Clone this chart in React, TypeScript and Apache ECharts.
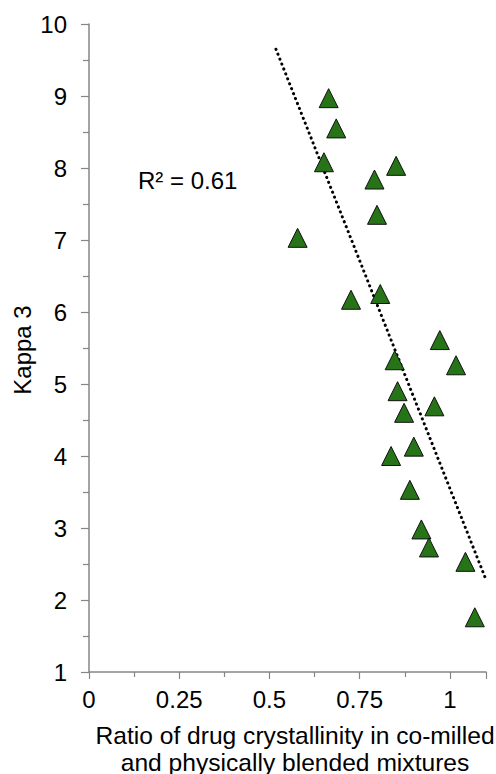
import React, { useEffect, useRef } from "react";
import * as echarts from "echarts";

const pointsX = [0.664, 0.685, 0.651, 0.851, 0.791, 0.798, 0.578, 0.726, 0.807, 0.972, 1.017, 0.847, 0.855, 0.957, 0.873, 0.9, 0.837, 0.889, 0.921, 0.942, 1.043, 1.069];
const pointsY = [8.97, 8.55, 8.08, 8.03, 7.84, 7.35, 7.03, 6.17, 6.25, 5.61, 5.26, 5.33, 4.9, 4.69, 4.6, 4.13, 4.0, 3.53, 2.98, 2.73, 2.53, 1.76];
const trendX = [0.518, 1.097];
const trendY = [9.65, 2.32];
const rSquaredLabel = "R² = 0.61";
const xTitleLines = ["Ratio of drug crystallinity in co-milled", "and physically blended mixtures"];
const yTitle = "Kappa 3";
const xTickLabels: Record<string, string> = { "0": "0", "0.25": "0.25", "0.5": "0.5", "0.75": "0.75", "1": "1" };

const FONT = "'Liberation Sans', Arial, sans-serif";

export default function App() {
  const ref = useRef<HTMLDivElement>(null);
  useEffect(() => {
    if (!ref.current) return;
    const chart = echarts.init(ref.current, undefined, { renderer: "svg" });
    const axisColor = "#868686";
    chart.setOption({
      animation: false,
      backgroundColor: "#ffffff",
      grid: { left: 89, top: 24, right: 10, bottom: 102, containLabel: false },
      xAxis: {
        type: "value",
        min: 0,
        max: 1.1,
        interval: 0.25,
        splitLine: { show: false },
        axisLine: { show: true, onZero: false, lineStyle: { color: axisColor, width: 1.5 } },
        axisTick: { show: true, length: 7, lineStyle: { color: axisColor, width: 1.2 } },
        minorTick: { show: true, splitNumber: 2, length: 5, lineStyle: { color: axisColor, width: 1.2 } },
        axisLabel: {
          color: "#000",
          fontSize: 24,
          fontFamily: FONT,
          margin: 15,
          showMaxLabel: false,
          formatter: (v: number) => xTickLabels[String(v)] ?? "",
        },
      },
      yAxis: {
        type: "value",
        min: 1,
        max: 10,
        interval: 1,
        splitLine: { show: false },
        axisLine: { show: true, onZero: false, lineStyle: { color: axisColor, width: 1.5 } },
        axisTick: { show: true, length: 8, lineStyle: { color: axisColor, width: 1.2 } },
        minorTick: { show: true, splitNumber: 2, length: 6, lineStyle: { color: axisColor, width: 1.2 } },
        axisLabel: { color: "#000", fontSize: 24, fontFamily: FONT, margin: 22 },
      },
      series: [
        {
          type: "line",
          data: trendX.map((x, i) => [x, trendY[i]]),
          symbol: "none",
          lineStyle: { color: "#000", width: 3, type: [0.2, 5.1], cap: "round" },
          z: 1,
        },
        {
          type: "scatter",
          data: pointsX.map((x, i) => [x, pointsY[i]]),
          symbol: "triangle",
          symbolSize: [19, 19],
          itemStyle: { color: "#267318", opacity: 1, borderColor: "#111", borderWidth: 1 },
          z: 2,
        },
      ],
      graphic: [
        {
          type: "text",
          x: 138,
          y: 180,
          style: { text: rSquaredLabel, fill: "#000", fontSize: 24, fontFamily: FONT, textAlign: "left", textVerticalAlign: "middle" },
        },
        {
          type: "text",
          x: 295,
          y: 735,
          style: { text: xTitleLines[0], fill: "#000", fontSize: 24.6, fontFamily: FONT, textAlign: "center", textVerticalAlign: "middle" },
        },
        {
          type: "text",
          x: 295,
          y: 762,
          style: { text: xTitleLines[1], fill: "#000", fontSize: 24.6, fontFamily: FONT, textAlign: "center", textVerticalAlign: "middle" },
        },
        {
          type: "text",
          x: 22,
          y: 350,
          rotation: Math.PI / 2,
          style: { text: yTitle, fill: "#000", fontSize: 24, fontFamily: FONT, textAlign: "center", textVerticalAlign: "middle" },
        },
      ],
    });
    return () => chart.dispose();
  }, []);
  return <div ref={ref} style={{ width: 496, height: 774, position: "absolute", left: 0, top: 0 }} />;
}
